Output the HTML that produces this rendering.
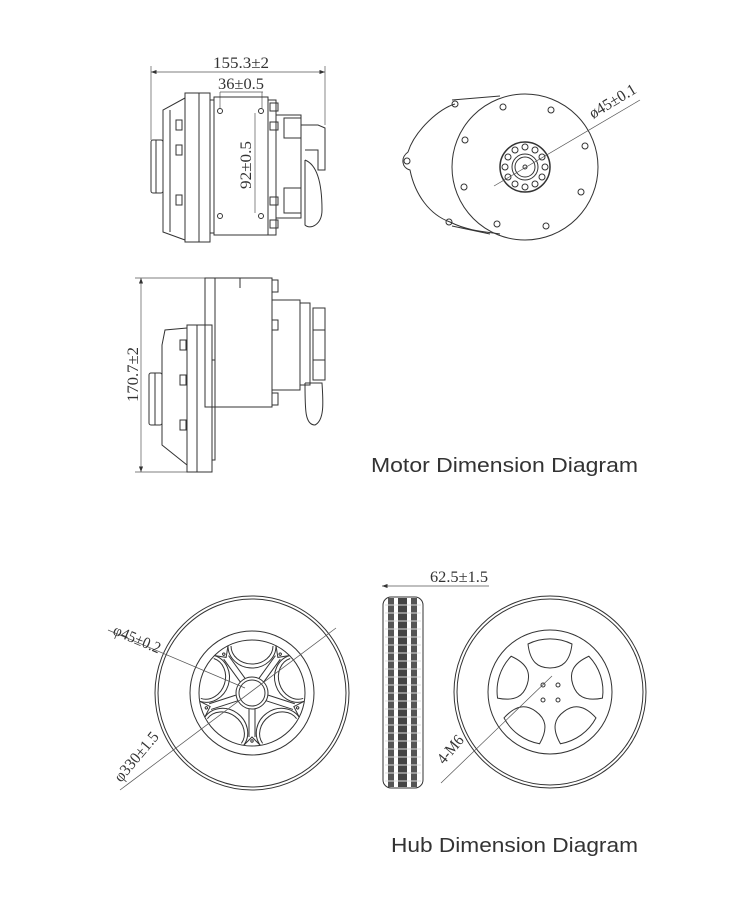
<!DOCTYPE html>
<html><head><meta charset="utf-8"><style>
html,body{margin:0;padding:0;background:#fff;}
svg{display:block;}
.l{fill:none;stroke:#333;stroke-width:1}
.t{stroke:#555;stroke-width:0.7;fill:none}
.d{font-family:"Liberation Serif",serif;font-size:16px;fill:#333}
.c{font-family:"Liberation Sans",sans-serif;font-size:20px;fill:#333}
</style></head><body>
<svg width="750" height="907" viewBox="0 0 750 907" xmlns="http://www.w3.org/2000/svg">
<rect width="750" height="907" fill="#fff"/>
<defs>
<marker id="a" markerWidth="8" markerHeight="6" refX="8" refY="3" orient="auto-start-reverse"><path d="M0,0 L8,3 L0,6" fill="#333"/></marker>
</defs>

<!-- TOP VIEW -->
<line class="t" x1="151" y1="72" x2="325" y2="72" marker-start="url(#a)" marker-end="url(#a)"/>
<line class="t" x1="151" y1="66" x2="151" y2="140"/><line class="t" x1="325" y1="66" x2="325" y2="125"/>
<text class="d" x="213" y="68" textLength="56" lengthAdjust="spacingAndGlyphs">155.3±2</text>
<line class="t" x1="220" y1="92" x2="263" y2="92"/>
<text class="d" x="218" y="89" textLength="46" lengthAdjust="spacingAndGlyphs">36±0.5</text>
<line class="t" x1="220" y1="92" x2="220" y2="108"/><line class="t" x1="262" y1="92" x2="262" y2="108"/>
<rect class="l" x="151" y="140" width="12" height="53" rx="2"/>
<line class="l" x1="156" y1="140" x2="156" y2="193"/>
<path class="l" d="M185,98 L163,110 L163,232 L185,240"/>
<line class="l" x1="170" y1="110" x2="170" y2="232"/>
<rect class="l" x="185" y="93" width="25" height="149"/>
<line class="l" x1="199" y1="93" x2="199" y2="242"/>
<rect class="l" x="176" y="120" width="6" height="10"/><rect class="l" x="176" y="145" width="6" height="10"/><rect class="l" x="176" y="195" width="6" height="10"/>
<rect class="l" x="210" y="100" width="4" height="133"/>
<rect class="l" x="214" y="97" width="54" height="138"/>
<circle class="l" cx="220" cy="111" r="2.5"/><circle class="l" cx="261" cy="111" r="2.5"/>
<circle class="l" cx="220" cy="216" r="2.5"/><circle class="l" cx="261" cy="216" r="2.5"/>
<line class="t" x1="255" y1="113" x2="255" y2="213"/>
<text class="d" transform="translate(251,189) rotate(-90)" textLength="48" lengthAdjust="spacingAndGlyphs">92±0.5</text>
<rect class="l" x="268" y="100" width="8" height="135"/>
<rect class="l" x="270" y="103" width="8" height="8"/><rect class="l" x="270" y="122" width="8" height="8"/><rect class="l" x="270" y="197" width="8" height="8"/><rect class="l" x="270" y="220" width="8" height="8"/>
<rect class="l" x="276" y="115" width="25" height="103"/>
<rect class="l" x="284" y="118" width="17" height="20"/><rect class="l" x="284" y="188" width="17" height="25"/>
<path class="l" d="M301,125 L318,125 L325,128 L325,170 L318,170 L318,150 L305,150"/>
<path class="l" d="M305,160 C318,165 322,185 322,210 C322,225 310,230 305,225 L305,160"/>

<!-- FRONT VIEW MOTOR -->
<path class="l" d="M455,104 C440,108 415,130 408,152 C400,158 402,168 410,170 C415,195 430,215 450,222 C470,232 490,232 500,234"/>
<circle class="l" cx="455" cy="104" r="3"/><circle class="l" cx="407" cy="161" r="3"/><circle class="l" cx="449" cy="222" r="3"/>
<path class="l" d="M452,100 L500,96"/><path class="l" d="M452,226 L490,234"/>
<circle class="l" cx="525" cy="167" r="73" fill="#fff"/>
<g class="l">
<circle cx="503" cy="107" r="3"/><circle cx="551" cy="110" r="3"/><circle cx="465" cy="140" r="3"/><circle cx="585" cy="146" r="3"/>
<circle cx="464" cy="187" r="3"/><circle cx="581" cy="192" r="3"/><circle cx="497" cy="224" r="3"/><circle cx="546" cy="226" r="3"/>
<circle cx="525" cy="167" r="25" stroke-width="1.5"/><circle cx="525" cy="167" r="13"/><circle cx="525" cy="167" r="10"/><circle cx="525" cy="167" r="2"/>
</g>
<g class="l">
<circle cx="545" cy="167" r="3"/><circle cx="542" cy="177" r="3"/><circle cx="535" cy="184" r="3"/><circle cx="525" cy="187" r="3"/><circle cx="515" cy="184" r="3"/><circle cx="508" cy="177" r="3"/><circle cx="505" cy="167" r="3"/><circle cx="508" cy="157" r="3"/><circle cx="515" cy="150" r="3"/><circle cx="525" cy="147" r="3"/><circle cx="535" cy="150" r="3"/><circle cx="542" cy="157" r="3"/>
</g>
<line class="t" x1="494" y1="186" x2="640" y2="100"/>
<text class="d" transform="translate(593,119) rotate(-31)" textLength="52" lengthAdjust="spacingAndGlyphs">ø45±0.1</text>

<!-- SIDE VIEW 2 -->
<line class="t" x1="141" y1="278" x2="141" y2="472" marker-start="url(#a)" marker-end="url(#a)"/>
<line class="t" x1="135" y1="278" x2="205" y2="278"/><line class="t" x1="135" y1="472" x2="187" y2="472"/>
<text class="d" transform="translate(138,402) rotate(-90)" textLength="55" lengthAdjust="spacingAndGlyphs">170.7±2</text>
<rect class="l" x="205" y="278" width="67" height="129"/>
<line class="l" x1="215" y1="278" x2="215" y2="407"/><line class="l" x1="240" y1="278" x2="240" y2="288"/>
<rect class="l" x="149" y="373" width="13" height="52" rx="2"/><line class="l" x1="155" y1="373" x2="155" y2="425"/>
<path class="l" d="M187,328 L165,330 L162,345 L162,445 L187,465"/>
<rect class="l" x="187" y="325" width="25" height="147"/><line class="l" x1="197" y1="325" x2="197" y2="472"/>
<rect class="l" x="212" y="360" width="3" height="100"/>
<rect class="l" x="180" y="340" width="6" height="10"/><rect class="l" x="180" y="375" width="6" height="10"/><rect class="l" x="180" y="420" width="6" height="10"/>
<rect class="l" x="272" y="300" width="28" height="90"/>
<rect class="l" x="272" y="280" width="6" height="12"/><rect class="l" x="272" y="320" width="6" height="10"/><rect class="l" x="272" y="393" width="6" height="12"/>
<rect class="l" x="300" y="303" width="10" height="82"/>
<path class="l" d="M313,308 L325,308 L325,380 L313,380 Z M313,330 L325,330 M313,360 L325,360"/>
<path class="l" d="M305,383 L322,383 C323,400 325,420 315,425 C305,425 305,410 305,383"/>

<text class="c" x="371" y="472" textLength="267" lengthAdjust="spacingAndGlyphs">Motor Dimension Diagram</text>

<!-- HUB LEFT WHEEL -->
<circle class="l" cx="252" cy="693" r="97" stroke-width="1.5"/>
<circle class="l" cx="252" cy="693" r="94"/>
<circle class="l" cx="252" cy="693" r="62"/>
<circle class="l" cx="252" cy="693" r="53"/>
<circle class="l" cx="252" cy="693" r="16"/><circle class="l" cx="252" cy="693" r="13"/>
<g class="l" transform="translate(252,693)">
<g id="sp">
<path d="M-24,-47 A24,22 0 0 0 24,-47"/>
<path d="M-21,-47 A21,18 0 0 0 21,-47"/>
<path d="M-3,16 L-3,44 M3,16 L3,44 M-8,52 L0,44 L8,52"/>
<circle cx="0" cy="48" r="1.2"/>
</g>
<use href="#sp" transform="rotate(72)"/><use href="#sp" transform="rotate(144)"/><use href="#sp" transform="rotate(216)"/><use href="#sp" transform="rotate(288)"/>
</g>
<line class="t" x1="108" y1="630" x2="245" y2="688"/>
<text class="d" transform="translate(112,634) rotate(23)" textLength="50" lengthAdjust="spacingAndGlyphs" font-size="15">φ45±0.2</text>
<line class="t" x1="120" y1="790" x2="336" y2="628"/>
<text class="d" transform="translate(121,783) rotate(-50)" textLength="60" lengthAdjust="spacingAndGlyphs" font-size="15">φ330±1.5</text>

<!-- TIRE SIDE -->
<line class="t" x1="382" y1="586" x2="489" y2="586" marker-start="url(#a)"/>
<text class="d" x="430" y="582" textLength="58" lengthAdjust="spacingAndGlyphs">62.5±1.5</text>
<rect x="383" y="597" width="40" height="191" rx="8" fill="#fff" stroke="#333"/>
<rect x="388" y="598" width="6" height="189" fill="#555"/><rect x="398" y="598" width="9" height="189" fill="#444"/><rect x="411" y="598" width="6" height="189" fill="#555"/>
<g stroke="#ddd" stroke-width="1">
<path d="M385,605 H421 M385,613 H421 M385,621 H421 M385,629 H421 M385,637 H421 M385,645 H421 M385,653 H421 M385,661 H421 M385,669 H421 M385,677 H421 M385,685 H421 M385,693 H421 M385,701 H421 M385,709 H421 M385,717 H421 M385,725 H421 M385,733 H421 M385,741 H421 M385,749 H421 M385,757 H421 M385,765 H421 M385,773 H421 M385,781 H421"/>
</g>

<!-- HUB RIGHT WHEEL -->
<circle class="l" cx="550" cy="692" r="96" stroke-width="1.5"/>
<circle class="l" cx="550" cy="692" r="93"/>
<circle class="l" cx="550" cy="692" r="62"/>
<g class="l" transform="translate(550,692)">
<g id="win"><path d="M-22,-48 A50,50 0 0 1 22,-48 C20,-30 12,-24 0,-24 C-12,-24 -20,-30 -22,-48 Z"/></g>
<use href="#win" transform="rotate(72)"/><use href="#win" transform="rotate(144)"/><use href="#win" transform="rotate(216)"/><use href="#win" transform="rotate(288)"/>
<circle cx="-7" cy="-7" r="2"/><circle cx="8" cy="-7" r="2"/><circle cx="-7" cy="8" r="2"/><circle cx="8" cy="8" r="2"/>
</g>
<line class="t" x1="441" y1="783" x2="552" y2="676"/>
<text class="d" transform="translate(444,765) rotate(-50)" textLength="32" lengthAdjust="spacingAndGlyphs" font-size="15">4-M6</text>

<text class="c" x="391" y="852" textLength="247" lengthAdjust="spacingAndGlyphs">Hub Dimension Diagram</text>
</svg>
</body></html>
